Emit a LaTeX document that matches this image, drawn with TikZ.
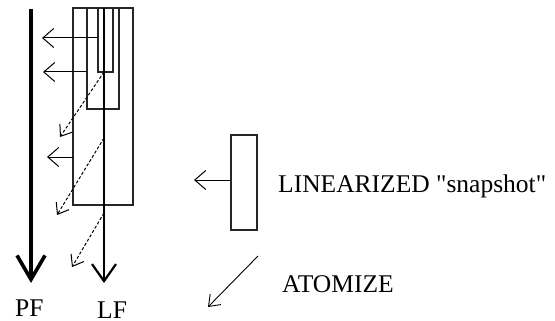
\documentclass[tikz,border=0pt]{standalone}
\usepackage{fontspec}
\setmainfont{Liberation Serif}
\newfontfamily\lblfont{Liberation Serif}
\usetikzlibrary{arrows.meta}
\begin{document}
\begin{tikzpicture}[x=1pt,y=-1pt,
  box/.style={draw=black!85,line width=1.3pt,inner sep=0pt,outer sep=0pt},
  leftarr/.style={line width=1pt,-{Straight Barb[length=11pt,width=19pt]}},
  dasharr/.style={line width=1pt,dash pattern=on 3pt off 2pt,-{Straight Barb[length=10pt,width=15pt]}},
  lbl/.style={inner sep=0pt,anchor=base west,font=\lblfont\fontsize{25.5}{30}\selectfont}]
\useasboundingbox (0,0) rectangle (555,321);
% rectangles
\node[box,minimum width=60pt,minimum height=197pt] (big) at (103,106.5) {};
\node[box,minimum width=32pt,minimum height=101pt] (mid) at (103,58.5) {};
\node[box,minimum width=15pt,minimum height=64pt] (small) at (105.5,40) {};
\node[box,minimum width=26pt,minimum height=95pt] (snap) at (244,182.5) {};
% main axes
\coordinate (pftop) at (31,9);
\coordinate (pfend) at (31,283);
\coordinate (lftop) at (104,8);
\coordinate (lfend) at (104,283);
\draw[line width=3.6pt,-{Straight Barb[length=24pt,width=28pt]}] (pftop) -- (pfend);
\draw[line width=2.2pt,-{Straight Barb[length=17pt,width=24pt]}] (lftop) -- (lfend);
% horizontal arrows
\coordinate (a1s) at (98,38);   \coordinate (a1e) at (42,38);
\coordinate (a2s) at (87,72);   \coordinate (a2e) at (43,72);
\coordinate (a3s) at (73,157);  \coordinate (a3e) at (47,157);
\draw[leftarr] (a1s) -- (a1e);
\draw[leftarr] (a2s) -- (a2e);
\draw[leftarr] (a3s) -- (a3e);
% dashed arrows
\coordinate (d1s) at (104,72);  \coordinate (d1e) at (60,137);
\coordinate (d2s) at (104,138); \coordinate (d2e) at (57,215);
\coordinate (d3s) at (104,213); \coordinate (d3e) at (72,267);
\draw[dasharr] (d1s) -- (d1e);
\draw[dasharr] (d2s) -- (d2e);
\draw[dasharr] (d3s) -- (d3e);
% legend
\coordinate (la) at (194,180);
\draw[leftarr] (snap.west |- la) -- (la);
\coordinate (ats) at (258,256); \coordinate (ate) at (208,307);
\draw[line width=0.9pt,-{Straight Barb[length=10pt,width=15pt]}] (ats) -- (ate);
% labels
\node[lbl] (tlin) at (278,193) {LINEARIZED "snapshot"};
\node[lbl] (tatom) at (282,292) {ATOMIZE};
\node[lbl] (tpf) at (15,316) {PF};
\node[lbl] (tlf) at (97,318) {LF};
\end{tikzpicture}
\end{document}
